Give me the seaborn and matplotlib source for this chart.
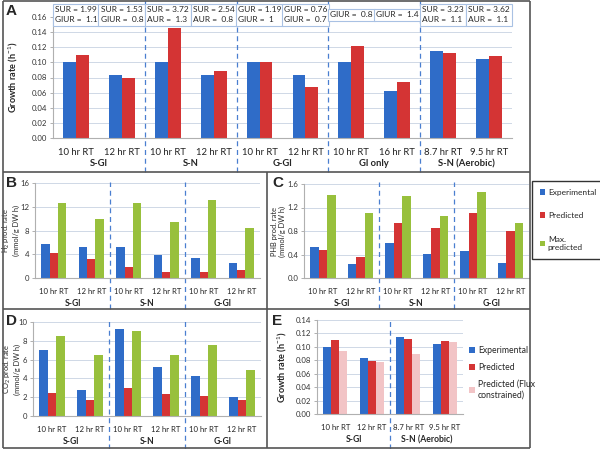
import matplotlib
matplotlib.use("Agg")
import matplotlib.pyplot as plt
from matplotlib.lines import Line2D
import seaborn as sns
import pandas as pd

# ---------------- data ----------------
# Panel A: growth rate (h^-1)
rt_A = ['10 hr RT', '12 hr RT', '10 hr RT', '12 hr RT', '10 hr RT', '12 hr RT',
        '10 hr RT', '16 hr RT', '8.7 hr RT', '9.5 hr RT']
groups_A = ['S-Gl', 'S-N', 'G-Gl', 'Gl only', 'S-N (Aerobic)']
exp_A = [0.100, 0.083, 0.100, 0.083, 0.100, 0.083, 0.100, 0.062, 0.115, 0.105]
pred_A = [0.110, 0.080, 0.145, 0.089, 0.100, 0.067, 0.121, 0.074, 0.112, 0.108]
boxes_A = ['SUR = 1.99\nGlUR =  1.1', 'SUR = 1.53\nGlUR =  0.8',
           'SUR = 3.72\nAUR =  1.3', 'SUR = 2.54\nAUR =  0.8',
           'GUR = 1.19\nGlUR =  1', 'GUR = 0.76\nGlUR =  0.7',
           'GlUR =  0.8', 'GlUR =  1.4',
           'SUR = 3.23\nAUR =  1.1', 'SUR = 3.62\nAUR =  1.1']

# Panels B, C, D: production rates (mmol/g DW h)
rt_BCD = ['10 hr RT', '12 hr RT'] * 3
groups_BCD = ['S-Gl', 'S-N', 'G-Gl']
h2_exp = [5.8, 5.2, 5.2, 3.8, 3.4, 2.6]
h2_pred = [4.2, 3.2, 1.9, 1.0, 1.0, 1.3]
h2_max = [12.7, 9.9, 12.6, 9.5, 13.2, 8.4]
phb_exp = [0.52, 0.23, 0.60, 0.41, 0.46, 0.26]
phb_pred = [0.47, 0.36, 0.94, 0.85, 1.11, 0.80]
phb_max = [1.41, 1.10, 1.40, 1.05, 1.46, 0.94]
co2_exp = [7.0, 2.8, 9.3, 5.2, 4.3, 2.0]
co2_pred = [2.4, 1.7, 3.0, 2.3, 2.1, 1.7]
co2_max = [8.5, 6.5, 9.0, 6.5, 7.6, 4.9]

# Panel E: growth rate with flux constraints
rt_E = ['10 hr RT', '12 hr RT', '8.7 hr RT', '9.5 hr RT']
groups_E = ['S-Gl', 'S-N (Aerobic)']
exp_E = [0.100, 0.083, 0.115, 0.105]
pred_E = [0.110, 0.079, 0.112, 0.109]
flux_E = [0.094, 0.077, 0.090, 0.107]

BLUE, RED, GREEN, PINK = '#2f6cc8', '#d43434', '#98c03c', '#f2c4c6'

sns.set_style('white')
plt.rcParams['font.family'] = ['Lato', 'DejaVu Sans']
plt.rcParams['mathtext.fontset'] = 'custom'
plt.rcParams['mathtext.rm'] = 'Lato'
plt.rcParams['mathtext.it'] = 'Lato:italic'
plt.rcParams['mathtext.bf'] = 'Lato:bold'

W, H = 600, 449
fig = plt.figure(figsize=(W / 100, H / 100), dpi=100)


def rect(x0, y0, x1, y1):
    return [x0 / W, 1 - y1 / H, (x1 - x0) / W, (y1 - y0) / H]


def long_df(series):
    rows = []
    for name, vals in series:
        for i, v in enumerate(vals):
            rows.append({'pos': i, 'series': name, 'value': v})
    return pd.DataFrame(rows)


def draw_panel(box, series, colors, width, ylim, yticks, yfmt, ylabel, ylab_x, ticklabels,
               groups, group_size, sep_top, sep_bot, big=False, keep_legend=False):
    x0, y0, x1, y1 = box
    ax = fig.add_axes(rect(*box))
    df = long_df(series)
    sns.barplot(data=df, x='pos', y='value', hue='series', palette=colors,
                width=width, ax=ax, legend=keep_legend, linewidth=0, saturation=1)
    ax.set_ylim(*ylim)
    ax.set_yticks(yticks)
    ax.set_yticklabels([yfmt.format(t) for t in yticks], fontsize=5.6, color='#333333')
    n = len(ticklabels)
    ax.set_xlim(-0.5, n - 0.5)
    ax.set_xticks(range(n))
    ax.set_xticklabels(ticklabels, fontsize=6.8 if big else 5.6, color='#222222')
    ax.set_xticks([i - 0.5 for i in range(n + 1)], minor=True)
    ax.tick_params(axis='x', which='major', length=0, pad=7)
    ax.tick_params(axis='x', which='minor', length=3, color='#b0b0b0', width=0.7)
    ax.tick_params(axis='y', length=2.5, color='#b0b0b0', width=0.7, pad=1.5, left=True)
    ax.set_xlabel('')
    ax.set_ylabel(ylabel, fontsize=6.6 if big else 5.4,
                  fontweight='bold' if big else 'normal', linespacing=1.1)
    # ylab_x is the right edge (in figure px) of the rotated label
    ax.yaxis.set_label_coords((ylab_x - x0) / (x1 - x0), 0.5)
    ax.grid(axis='y', color='#cfd8e6', linewidth=0.7)
    ax.set_axisbelow(True)
    for s in ['top', 'right']:
        ax.spines[s].set_visible(False)
    for s in ['left', 'bottom']:
        ax.spines[s].set_color('#b0b0b0')
        ax.spines[s].set_linewidth(0.8)
    # group labels and dashed separators
    h = y1 - y0
    for g, name in enumerate(groups):
        c = g * group_size + (group_size - 1) / 2
        ax.annotate(name, xy=(c, 0), xycoords=('data', 'axes fraction'),
                    xytext=(0, -26 * 0.72), textcoords='offset points',
                    ha='center', va='center', fontsize=6.8 if big else 6.2, fontweight='bold')
        if g > 0:
            ax.axvline(g * group_size - 0.5, ymin=(y1 - sep_bot) / h, ymax=(y1 - sep_top) / h,
                       color='#4a7fd0', linestyle=(0, (4, 3)), linewidth=0.9, clip_on=False)
    return ax


# Panel A
axA = draw_panel((53, 17, 512, 138), [('Experimental', exp_A), ('Predicted', pred_A)],
                 [BLUE, RED], 0.56, (0, 0.16), [0, 0.02, 0.04, 0.06, 0.08, 0.10, 0.12, 0.14, 0.16],
                 '{:.2f}', 'Growth rate (h$^{-1}$)', 20, rt_A, groups_A, 2, 0, 172, big=True)
for i, txt in enumerate(boxes_A):
    axA.annotate(txt, xy=(i, 1), xycoords=('data', 'axes fraction'),
                 xytext=(0, 1.5), textcoords='offset points', ha='center', va='center',
                 multialignment='left', fontsize=6.0, linespacing=1.5,
                 bbox=dict(boxstyle='square,pad=0.25', fc='white', ec='#a9c1e3', lw=0.8))

# Panel B
draw_panel((35, 183, 260, 278), [('Experimental', h2_exp), ('Predicted', h2_pred), ('Max. predicted', h2_max)],
           [BLUE, RED, GREEN], 0.67, (0, 16), [0, 4, 8, 12, 16], '{:.0f}',
           'H$_2$ prod. rate\n(mmol/g DW h)', 20, rt_BCD, groups_BCD, 2, 182, 309)

# Panel C
axC = draw_panel((304, 184, 529, 278), [('Experimental', phb_exp), ('Predicted', phb_pred), ('Max. predicted', phb_max)],
                 [BLUE, RED, GREEN], 0.68, (0, 1.6), [0, 0.4, 0.8, 1.2, 1.6], '{:.1f}',
                 'PHB prod. rate\n(mmol/g DW h)', 286, rt_BCD, groups_BCD, 2, 182, 309, keep_legend=True)
handles = axC.get_legend().legend_handles
axC.get_legend().remove()
legBC = fig.legend(handles, ['Experimental', 'Predicted', 'Max.\npredicted'],
                   loc='upper left', bbox_to_anchor=(532 / W, 1 - 181 / H), fontsize=6.0,
                   handlelength=0.7, handleheight=0.7, handletextpad=0.3, labelspacing=2.0,
                   borderpad=0.9, borderaxespad=0, frameon=True, fancybox=False, edgecolor='black')
legBC.get_frame().set_linewidth(1.0)

# Panel D
draw_panel((33, 322, 261, 416), [('Experimental', co2_exp), ('Predicted', co2_pred), ('Max. predicted', co2_max)],
           [BLUE, RED, GREEN], 0.67, (0, 10), [0, 2, 4, 6, 8, 10], '{:.0f}',
           'CO$_2$ prod. rate\n(mmol/g DW h)', 21, rt_BCD, groups_BCD, 2, 320, 449)

# Panel E
axE = draw_panel((317, 320, 463, 414), [('Experimental', exp_E), ('Predicted', pred_E),
                                        ('Predicted (Flux\nconstrained)', flux_E)],
                 [BLUE, RED, PINK], 0.66, (0, 0.14), [0, 0.02, 0.04, 0.06, 0.08, 0.10, 0.12, 0.14],
                 '{:.2f}', 'Growth rate (h$^{-1}$)', 289, rt_E, groups_E, 2, 318, 449, keep_legend=True)
axE.yaxis.label.set_fontsize(6.6)
axE.yaxis.label.set_fontweight('bold')
handlesE = axE.get_legend().legend_handles
axE.get_legend().remove()
fig.legend(handlesE, ['Experimental', 'Predicted', 'Predicted (Flux\nconstrained)'],
           loc='upper left', bbox_to_anchor=(466 / W, 1 - 343 / H), fontsize=6.2,
           handlelength=0.7, handleheight=0.7, handletextpad=0.3, labelspacing=0.9,
           borderaxespad=0, frameon=False)

# panel letters
for letter, (x, y) in {'A': (6, 11), 'B': (6, 183), 'C': (272, 183), 'D': (6, 321), 'E': (272, 321)}.items():
    fig.text(x / W, 1 - y / H, letter, fontsize=11, fontweight='bold', va='center', ha='left',
             family=['Liberation Sans', 'DejaVu Sans'])

# panel frames
frame = dict(color='#555555', linewidth=1.2, solid_capstyle='butt')
for (xa, ya, xb, yb) in [(3, 1, 530, 1), (3, 1, 3, 448), (530, 1, 530, 448), (3, 448, 530, 448),
                         (3, 172, 530, 172), (3, 309, 530, 309), (267, 172, 267, 448)]:
    fig.add_artist(Line2D([xa / W, xb / W], [1 - ya / H, 1 - yb / H], **frame))

fig.savefig('out.png', dpi=100)
